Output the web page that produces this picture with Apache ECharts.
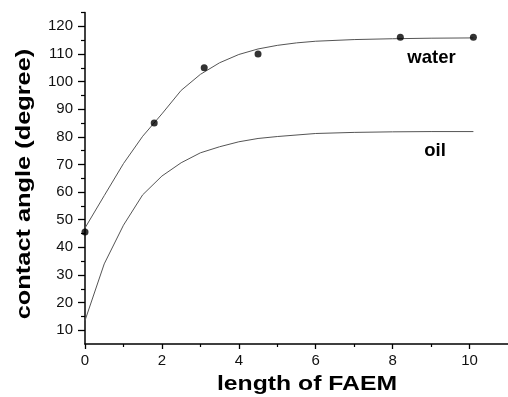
<!DOCTYPE html>
<html>
<head>
<meta charset="utf-8">
<script src="https://cdn.jsdelivr.net/npm/echarts@6/dist/echarts.min.js"></script>
<style>
  html, body { margin: 0; padding: 0; background: #fff; }
  #chart { width: 508px; height: 397px; }
</style>
</head>
<body>
<div id="chart"></div>
<script>
// Measured contact angles (water) against FAEM chain length
const waterX = [0, 1.8, 3.1, 4.5, 8.2, 10.1];
const waterY = [45.5, 85, 105, 110, 116, 116];

// Fitted curve for water
const waterFitX = [0, 0.5, 1, 1.5, 2, 2.5, 3, 3.5, 4, 4.5, 5, 5.5, 6, 7, 8, 9, 10.1];
const waterFitY = [47, 58.7, 70.3, 80.2, 88.3, 96.8, 102.6, 106.8, 109.8, 111.8, 113.1, 114, 114.6, 115.2, 115.5, 115.7, 115.8];

// Fitted curve for oil
const oilFitX = [0, 0.5, 1, 1.5, 2, 2.5, 3, 3.5, 4, 4.5, 5, 6, 7, 8, 9, 10.1];
const oilFitY = [13.5, 34, 48, 59, 65.8, 70.6, 74.2, 76.4, 78.2, 79.4, 80.1, 81.2, 81.6, 81.8, 81.9, 81.9];

// Axis ticks
const xMajorTicks = [0, 2, 4, 6, 8, 10];
const xMinorTicks = [1, 3, 5, 7, 9];
const yMajorTicks = [10, 20, 30, 40, 50, 60, 70, 80, 90, 100, 110, 120];
const yMinorTicks = [15, 25, 35, 45, 55, 65, 75, 85, 95, 105, 115, 125];

const zip = (xs, ys) => xs.map((x, i) => [x, ys[i]]);

const FONT = '"Liberation Sans", Arial, sans-serif';
const axisLine = { show: true, lineStyle: { color: '#000', width: 1.5 } };

const chart = echarts.init(document.getElementById('chart'));
chart.setOption({
  animation: false,
  backgroundColor: '#fff',
  grid: { left: 85, right: 0, top: 12.5, bottom: 53, containLabel: false },
  xAxis: [
    {
      type: 'value', min: 0, max: 11, position: 'bottom',
      axisLine: axisLine,
      axisTick: { show: true, inside: false, length: 5, customValues: xMajorTicks, lineStyle: { color: '#000', width: 1.3 } },
      axisLabel: { customValues: xMajorTicks, margin: 9, fontSize: 15, color: '#111', fontFamily: FONT },
      splitLine: { show: false }
    },
    {
      type: 'value', min: 0, max: 11, position: 'bottom',
      axisLine: { show: false },
      axisTick: { show: true, inside: false, length: 3, customValues: xMinorTicks, lineStyle: { color: '#000', width: 1.2 } },
      axisLabel: { show: false },
      splitLine: { show: false }
    }
  ],
  yAxis: [
    {
      type: 'value', min: 5, max: 125, position: 'left',
      axisLine: axisLine,
      axisTick: { show: true, inside: false, length: 7, customValues: yMajorTicks, lineStyle: { color: '#000', width: 1.3 } },
      axisLabel: { customValues: yMajorTicks, margin: 12, fontSize: 15, color: '#111', fontFamily: FONT },
      splitLine: { show: false }
    },
    {
      type: 'value', min: 5, max: 125, position: 'left',
      axisLine: { show: false },
      axisTick: { show: true, inside: false, length: 4, customValues: yMinorTicks, lineStyle: { color: '#000', width: 1.2 } },
      axisLabel: { show: false },
      splitLine: { show: false }
    }
  ],
  series: [
    {
      name: 'water fit', type: 'line', xAxisIndex: 0, yAxisIndex: 0,
      data: zip(waterFitX, waterFitY), smooth: false, showSymbol: false,
      lineStyle: { color: '#555', width: 1 }, z: 2
    },
    {
      name: 'oil fit', type: 'line', xAxisIndex: 0, yAxisIndex: 0,
      data: zip(oilFitX, oilFitY), smooth: false, showSymbol: false,
      lineStyle: { color: '#555', width: 1 }, z: 2
    },
    {
      name: 'water', type: 'scatter', xAxisIndex: 0, yAxisIndex: 0,
      data: zip(waterX, waterY), symbol: 'circle', symbolSize: 7,
      itemStyle: { color: '#000' }, z: 3
    }
  ],
  graphic: [
    {
      type: 'text', x: 431.5, y: 58, z: 10,
      style: { text: 'water', font: 'bold 18.5px ' + FONT, fill: '#000', align: 'center', verticalAlign: 'middle' }
    },
    {
      type: 'text', x: 435, y: 151, z: 10,
      style: { text: 'oil', font: 'bold 18.5px ' + FONT, fill: '#000', align: 'center', verticalAlign: 'middle' }
    },
    {
      type: 'text', x: 307, y: 385, scaleX: 1.27, z: 10,
      style: { text: 'length of FAEM', font: 'bold 19.5px ' + FONT, fill: '#000', align: 'center', verticalAlign: 'middle' }
    },
    {
      type: 'text', x: 24.3, y: 184, rotation: Math.PI / 2, scaleX: 1.3, z: 10,
      style: { text: 'contact angle (degree)', font: 'bold 19.5px ' + FONT, fill: '#000', align: 'center', verticalAlign: 'middle' }
    }
  ]
});
</script>
</body>
</html>
